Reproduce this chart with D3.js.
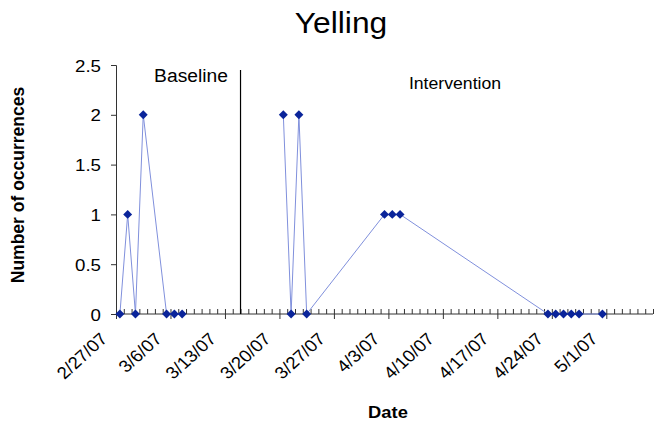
<!DOCTYPE html>
<html><head><meta charset="utf-8">
<script src="https://cdn.jsdelivr.net/npm/d3@7"></script>
<style>
body{margin:0;background:#fff;}
text{font-family:"Liberation Sans",Arial,sans-serif;fill:#000;}
</style></head>
<body><svg id="c" width="658" height="422"></svg>
<script>
const baselineDates = ["2007-02-27","2007-02-28","2007-03-01","2007-03-02","2007-03-05","2007-03-06","2007-03-07"];
const baselineValues = [0,1,0,2,0,0,0];
const interventionDates = ["2007-03-20","2007-03-21","2007-03-22","2007-03-23","2007-04-02","2007-04-03","2007-04-04","2007-04-23","2007-04-24","2007-04-25","2007-04-26","2007-04-27","2007-04-30"];
const interventionValues = [2,0,2,0,1,1,1,0,0,0,0,0,0];
const yTicks = [0,0.5,1,1.5,2,2.5];
const xTickLabels = ["2/27/07","3/6/07","3/13/07","3/20/07","3/27/07","4/3/07","4/10/07","4/17/07","4/24/07","5/1/07"];
const phaseChangeDate = "2007-03-15";
const axisStart = "2007-02-27", axisEnd = "2007-05-07";

const parse = d3.utcParse("%Y-%m-%d");
const svg = d3.select("#c");
const mLeft = 116, mRight = 653, mTop = 65, mBottom = 314;
const sx = 1.1; // horizontal text stretch
const x = d3.scaleUtc().domain([parse(axisStart), parse(axisEnd)]).range([mLeft, mRight]);
const y = d3.scaleLinear().domain([0, 2.5]).range([mBottom, mTop]);
const mid = d => d3.utcHour.offset(parse(d), 12);

function label(tx, ty, txt, size, opts={}){
  const t = svg.append("text").attr("transform",`translate(${tx},${ty}) ${opts.rot?`rotate(${opts.rot})`:""} scale(${opts.s||sx},1)`)
    .attr("text-anchor","middle").attr("font-size",size).text(txt);
  if (opts.bold) t.attr("font-weight","bold");
  return t;
}

// title
label(341, 33, "Yelling", 30, {s:1.06});

// y axis
const yAxis = svg.append("g").attr("transform",`translate(${mLeft},0)`)
  .call(d3.axisLeft(y).tickValues(yTicks).tickSize(5).tickFormat(d3.format("")));
yAxis.select(".domain").attr("stroke","#333");
yAxis.selectAll(".tick line").attr("stroke","#333");
yAxis.selectAll(".tick text").attr("font-size",17).attr("font-family","Liberation Sans, Arial, sans-serif").attr("fill","#000")
  .attr("x",0).attr("dy","0.36em").attr("transform",`translate(-15,0) scale(${sx},1)`);

// x axis: minor daily ticks up, major weekly ticks down
const days = d3.utcDay.range(parse(axisStart), d3.utcDay.offset(parse(axisEnd),1));
const weeks = xTickLabels.map((l,i) => d3.utcDay.offset(parse(axisStart), i*7));
const xa = svg.append("g").attr("transform",`translate(0,${mBottom})`);
xa.call(d3.axisTop(x).tickValues(days).tickSize(5).tickFormat(""));
xa.select(".domain").remove();
xa.selectAll(".tick line").attr("stroke","#333");
const xb = svg.append("g").attr("transform",`translate(0,${mBottom})`);
xb.call(d3.axisBottom(x).tickValues(weeks).tickSize(5).tickFormat((d,i)=>xTickLabels[i]));
xb.select(".domain").attr("stroke","#333").attr("d",`M${mLeft},0H${mRight}`);
xb.selectAll(".tick line").attr("stroke","#333");
xb.selectAll(".tick text").attr("font-size",17).attr("text-anchor","end")
  .attr("dy",0).attr("y",0).attr("fill","#000").attr("font-family","Liberation Sans, Arial, sans-serif")
  .attr("transform",`translate(-8,26) scale(${sx},1) rotate(-45)`);

// phase line
svg.append("line").attr("x1",x(parse(phaseChangeDate))).attr("x2",x(parse(phaseChangeDate)))
  .attr("y1",70).attr("y2",mBottom).attr("stroke","#000").attr("stroke-width",1.2);

// phase labels
label(191, 82, "Baseline", 18, {s:1.07});
label(455, 89, "Intervention", 16.5, {s:1.07});

// series
const line = d3.line().x(d=>x(mid(d[0]))).y(d=>y(d[1]));
const diamond = d3.symbol().type(d3.symbolSquare).size(40);
function drawSeries(dates, vals){
  const pts = dates.map((d,i)=>[d, vals[i]]);
  svg.append("path").datum(pts).attr("d",line).attr("fill","none").attr("stroke","#8090dc").attr("stroke-width",1);
  svg.append("g").selectAll("path").data(pts).join("path")
    .attr("d",diamond).attr("transform",d=>`translate(${x(mid(d[0]))},${y(d[1])}) rotate(45)`).attr("fill","#0a249a");
}
drawSeries(baselineDates, baselineValues);
drawSeries(interventionDates, interventionValues);

// axis titles
label(388, 418, "Date", 17, {bold:true, s:1.08});
label(24, 185, "Number of occurrences", 17.5, {bold:true, rot:-90, s:1});
</script></body></html>
